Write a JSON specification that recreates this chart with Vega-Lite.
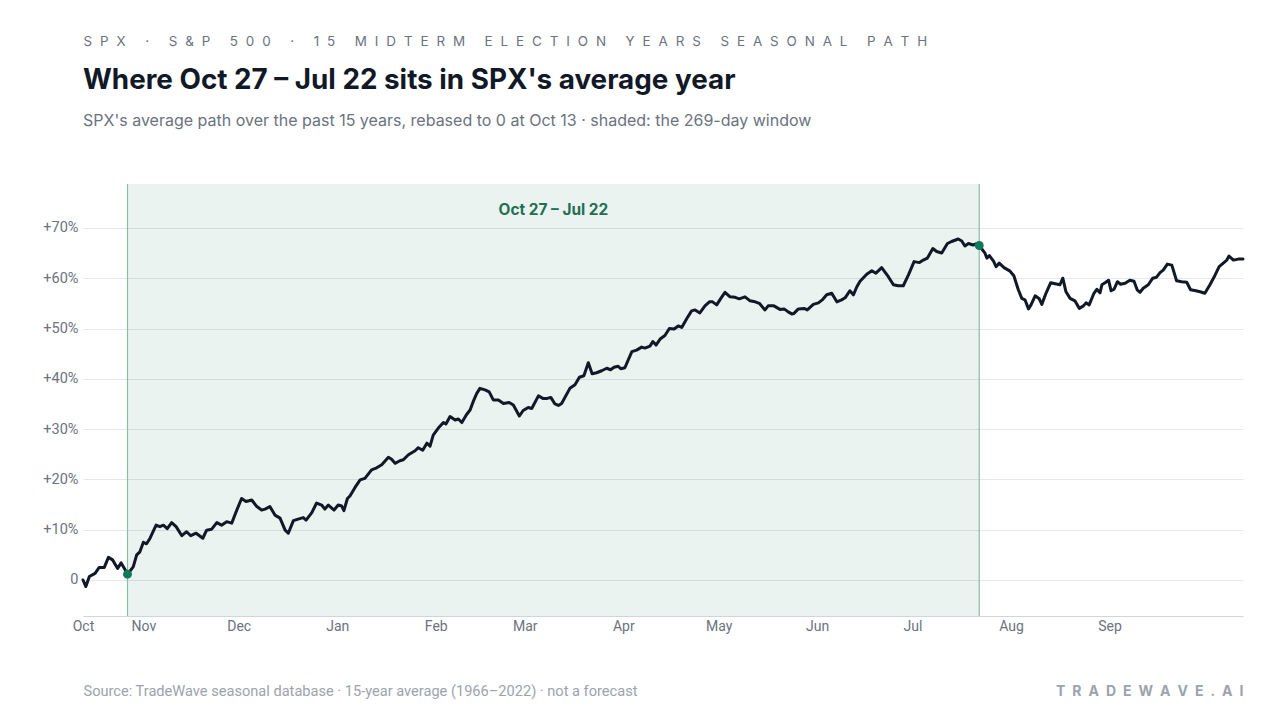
{
  "$schema": "https://vega.github.io/schema/vega-lite/v6.json",
  "width": 1160,
  "height": 432,
  "autosize": {"type": "none"},
  "padding": {"left": 83, "top": 184, "right": 37, "bottom": 104},
  "background": "#ffffff",
  "config": {"view": {"stroke": null}, "font": "Inter"},
  "title": {
    "text": "Where Oct 27 – Jul 22 sits in SPX's average year",
    "subtitle": "SPX's average path over the past 15 years, rebased to 0 at Oct 13 · shaded: the 269-day window",
    "anchor": "start",
    "frame": "group",
    "font": "Inter",
    "fontSize": 27.8,
    "fontWeight": "bold",
    "color": "#111827",
    "subtitleFont": "Inter",
    "subtitleFontSize": 16,
    "subtitleColor": "#6b7280",
    "subtitlePadding": 18,
    "offset": 55,
    "dy": 150
  },
  "datasets": {
    "window": [{"start": 14, "end": 282, "label": "Oct 27 – Jul 22"}],
    "path": [
      {"day":0,"pct":0},{"day":0.9,"pct":-1.3},{"day":2.0,"pct":0.7},{"day":3.8,"pct":1.3},{"day":5.1,"pct":2.5},{"day":6.7,"pct":2.5},{"day":8.0,"pct":4.5},{"day":9.3,"pct":4.0},{"day":10.9,"pct":2.3},{"day":12.0,"pct":3.4},{"day":13.3,"pct":2.0},{"day":14,"pct":1.15},{"day":15.8,"pct":2.6},{"day":16.9,"pct":5.0},{"day":17.9,"pct":5.6},{"day":19.0,"pct":7.5},{"day":20.0,"pct":7.2},{"day":21.1,"pct":8.3},{"day":23.0,"pct":10.9},{"day":24.2,"pct":10.6},{"day":25.3,"pct":10.9},{"day":26.5,"pct":10.2},{"day":27.9,"pct":11.4},{"day":29.3,"pct":10.6},{"day":31.1,"pct":8.8},{"day":32.6,"pct":9.6},{"day":33.9,"pct":8.8},{"day":35.6,"pct":9.3},{"day":37.7,"pct":8.3},{"day":38.9,"pct":9.9},{"day":40.5,"pct":10.1},{"day":42.1,"pct":11.4},{"day":43.6,"pct":10.9},{"day":45.2,"pct":11.6},{"day":46.8,"pct":11.3},{"day":48.4,"pct":13.9},{"day":49.9,"pct":16.2},{"day":51.3,"pct":15.6},{"day":53.1,"pct":15.9},{"day":54.7,"pct":14.6},{"day":56.2,"pct":13.9},{"day":57.3,"pct":14.1},{"day":58.8,"pct":14.6},{"day":60.4,"pct":12.9},{"day":62.0,"pct":12.3},{"day":63.6,"pct":9.9},{"day":64.6,"pct":9.3},{"day":66.2,"pct":11.8},{"day":67.7,"pct":12.1},{"day":69.3,"pct":12.4},{"day":70.2,"pct":11.9},{"day":72.0,"pct":13.4},{"day":73.5,"pct":15.3},{"day":75.1,"pct":14.9},{"day":76.1,"pct":14.1},{"day":77.2,"pct":14.9},{"day":79.0,"pct":13.9},{"day":80.3,"pct":14.9},{"day":81.4,"pct":14.7},{"day":82.1,"pct":13.8},{"day":83.2,"pct":16.2},{"day":84.0,"pct":16.7},{"day":85.6,"pct":18.4},{"day":87.2,"pct":19.9},{"day":88.7,"pct":20.2},{"day":90.8,"pct":21.9},{"day":92.4,"pct":22.3},{"day":94.0,"pct":22.9},{"day":96.1,"pct":24.4},{"day":97.1,"pct":24.0},{"day":98.2,"pct":23.2},{"day":99.7,"pct":23.7},{"day":100.8,"pct":23.9},{"day":102.4,"pct":24.9},{"day":104.5,"pct":25.7},{"day":105.5,"pct":26.3},{"day":106.9,"pct":25.8},{"day":108.2,"pct":27.2},{"day":109.2,"pct":26.6},{"day":110.2,"pct":28.8},{"day":111.8,"pct":30.2},{"day":113.4,"pct":31.3},{"day":114.2,"pct":31.0},{"day":115.5,"pct":32.5},{"day":117.1,"pct":31.8},{"day":118.1,"pct":32.0},{"day":119.2,"pct":31.3},{"day":120.7,"pct":32.9},{"day":121.8,"pct":33.8},{"day":122.8,"pct":35.5},{"day":123.9,"pct":37.1},{"day":124.9,"pct":38.1},{"day":126.5,"pct":37.8},{"day":127.8,"pct":37.4},{"day":129.1,"pct":35.8},{"day":130.7,"pct":35.8},{"day":132.3,"pct":35.1},{"day":134.1,"pct":35.3},{"day":135.4,"pct":34.8},{"day":137.3,"pct":32.6},{"day":138.5,"pct":33.7},{"day":140.1,"pct":34.3},{"day":141.2,"pct":34.1},{"day":143.3,"pct":36.6},{"day":144.7,"pct":36.1},{"day":146.1,"pct":36.1},{"day":147.2,"pct":36.3},{"day":148.5,"pct":35.0},{"day":149.6,"pct":34.7},{"day":150.6,"pct":35.1},{"day":153.2,"pct":38.1},{"day":154.8,"pct":38.8},{"day":156.2,"pct":40.3},{"day":157.6,"pct":40.6},{"day":159.0,"pct":43.2},{"day":160.2,"pct":41.0},{"day":161.6,"pct":41.2},{"day":163.2,"pct":41.6},{"day":164.8,"pct":42.1},{"day":166.0,"pct":41.8},{"day":167.1,"pct":42.3},{"day":168.4,"pct":42.5},{"day":169.2,"pct":42.0},{"day":170.5,"pct":42.2},{"day":172.7,"pct":45.4},{"day":174.2,"pct":45.7},{"day":175.8,"pct":46.3},{"day":176.8,"pct":46.1},{"day":178.4,"pct":46.5},{"day":179.3,"pct":47.4},{"day":180.3,"pct":46.7},{"day":181.6,"pct":47.9},{"day":183.1,"pct":48.6},{"day":184.5,"pct":50.0},{"day":186.0,"pct":49.9},{"day":187.3,"pct":50.5},{"day":188.4,"pct":50.2},{"day":190.0,"pct":52.0},{"day":191.5,"pct":53.5},{"day":192.6,"pct":53.7},{"day":194.1,"pct":53.1},{"day":195.7,"pct":54.5},{"day":197.1,"pct":55.3},{"day":198.1,"pct":55.3},{"day":199.4,"pct":54.7},{"day":200.7,"pct":56.0},{"day":202.0,"pct":57.2},{"day":203.6,"pct":56.3},{"day":205.2,"pct":56.2},{"day":206.5,"pct":55.9},{"day":208.3,"pct":56.3},{"day":209.9,"pct":55.5},{"day":211.5,"pct":55.3},{"day":212.8,"pct":55.0},{"day":214.6,"pct":53.7},{"day":215.6,"pct":54.5},{"day":217.4,"pct":54.5},{"day":219.3,"pct":53.8},{"day":220.6,"pct":53.9},{"day":221.9,"pct":53.3},{"day":223.0,"pct":52.9},{"day":223.7,"pct":53.0},{"day":225.1,"pct":53.9},{"day":226.9,"pct":54.0},{"day":227.9,"pct":53.7},{"day":229.8,"pct":54.8},{"day":231.4,"pct":55.1},{"day":232.8,"pct":55.8},{"day":234.0,"pct":56.7},{"day":235.6,"pct":57.0},{"day":237.2,"pct":55.3},{"day":238.7,"pct":55.7},{"day":239.8,"pct":56.1},{"day":241.3,"pct":57.5},{"day":242.4,"pct":56.7},{"day":243.5,"pct":58.3},{"day":244.5,"pct":59.4},{"day":246.6,"pct":60.8},{"day":248.2,"pct":61.5},{"day":249.5,"pct":61.0},{"day":251.3,"pct":62.1},{"day":253.4,"pct":60.3},{"day":255.0,"pct":58.7},{"day":256.5,"pct":58.5},{"day":258.1,"pct":58.5},{"day":259.7,"pct":60.6},{"day":261.5,"pct":63.3},{"day":263.2,"pct":63.1},{"day":264.4,"pct":63.6},{"day":265.7,"pct":64.0},{"day":267.4,"pct":65.9},{"day":268.6,"pct":65.3},{"day":270.2,"pct":65.0},{"day":272.0,"pct":66.9},{"day":273.3,"pct":67.3},{"day":275.4,"pct":67.8},{"day":276.5,"pct":67.4},{"day":277.5,"pct":66.4},{"day":278.6,"pct":66.9},{"day":280.1,"pct":66.6},{"day":281.0,"pct":66.8},{"day":282,"pct":66.5},{"day":283.8,"pct":65.0},{"day":284.4,"pct":64.0},{"day":285.2,"pct":64.5},{"day":286.5,"pct":63.4},{"day":287.3,"pct":62.3},{"day":288.3,"pct":63.0},{"day":289.8,"pct":62.1},{"day":291.7,"pct":61.4},{"day":292.9,"pct":60.5},{"day":294.3,"pct":57.7},{"day":295.4,"pct":56.0},{"day":296.4,"pct":55.7},{"day":297.5,"pct":53.9},{"day":298.3,"pct":54.7},{"day":299.6,"pct":56.5},{"day":300.9,"pct":55.9},{"day":301.7,"pct":54.8},{"day":303.0,"pct":57.0},{"day":304.5,"pct":59.1},{"day":305.9,"pct":58.9},{"day":307.4,"pct":58.7},{"day":308.3,"pct":60.0},{"day":309.3,"pct":57.3},{"day":310.6,"pct":56.0},{"day":312.1,"pct":55.5},{"day":313.5,"pct":54.0},{"day":314.8,"pct":54.5},{"day":315.6,"pct":55.1},{"day":316.6,"pct":54.7},{"day":318.1,"pct":57.0},{"day":319.0,"pct":57.8},{"day":320.0,"pct":57.1},{"day":320.6,"pct":58.7},{"day":321.6,"pct":59.1},{"day":322.7,"pct":59.6},{"day":323.5,"pct":57.5},{"day":324.4,"pct":57.8},{"day":325.5,"pct":59.3},{"day":326.5,"pct":58.8},{"day":327.9,"pct":59.0},{"day":329.4,"pct":59.6},{"day":330.7,"pct":59.4},{"day":331.7,"pct":57.7},{"day":332.6,"pct":57.2},{"day":333.6,"pct":58.0},{"day":335.2,"pct":58.7},{"day":336.6,"pct":60.0},{"day":337.8,"pct":60.2},{"day":338.9,"pct":61.1},{"day":339.9,"pct":61.6},{"day":341.2,"pct":62.8},{"day":342.6,"pct":62.6},{"day":344.1,"pct":59.5},{"day":345.7,"pct":59.3},{"day":347.3,"pct":59.2},{"day":348.5,"pct":57.7},{"day":350.2,"pct":57.5},{"day":351.5,"pct":57.3},{"day":353.0,"pct":57.0},{"day":354.6,"pct":58.7},{"day":356.2,"pct":60.6},{"day":357.5,"pct":62.3},{"day":358.8,"pct":63.0},{"day":359.9,"pct":63.6},{"day":360.6,"pct":64.4},{"day":362.0,"pct":63.6},{"day":363.5,"pct":63.8},{"day":365,"pct":63.8}
    ]
  },
  "layer": [
    {
      "layer": [
        {
          "data": {"name": "window"},
          "mark": {"type": "rect", "fill": "#1a7f56", "opacity": 0.09},
          "encoding": {
            "x": {"field": "start", "type": "quantitative", "scale": {"domain": [0, 365], "nice": false, "zero": false}},
            "x2": {"field": "end"}
          }
        },
        {
          "data": {"name": "window"},
          "transform": [{"fold": ["start", "end"], "as": ["edge", "pos"]}],
          "mark": {"type": "rule", "color": "#86bfa3", "strokeWidth": 1.2},
          "encoding": {
            "x": {"field": "pos", "type": "quantitative", "scale": {"domain": [0, 365], "nice": false, "zero": false}}
          }
        },
        {
          "data": {"name": "path"},
          "mark": {"type": "line", "color": "#111827", "strokeWidth": 3, "strokeJoin": "round", "strokeCap": "round"},
          "encoding": {
            "x": {
              "field": "day", "type": "quantitative",
              "scale": {"domain": [0, 365], "nice": false, "zero": false},
              "axis": {
                "values": [0, 19, 49, 80, 111, 139, 170, 200, 231, 261, 292, 323],
                "labelExpr": "['Oct','Nov','Dec','Jan','Feb','Mar','Apr','May','Jun','Jul','Aug','Sep'][indexof([0,19,49,80,111,139,170,200,231,261,292,323], datum.value)]",
                "grid": false, "ticks": false, "domain": true, "domainColor": "#d1d5db", "domainWidth": 1,
                "labelColor": "#6b7280", "labelFontSize": 14, "labelFont": "Roboto", "labelPadding": 3, "labelOverlap": false, "labelFlush": false,
                "title": "Source: TradeWave seasonal database · 15-year average (1966–2022) · not a forecast",
                "titleX": 0, "titleY": 79, "titleAlign": "left", "titleAnchor": "start", "titleBaseline": "alphabetic",
                "titleFont": "Roboto", "titleFontSize": 14.6, "titleFontWeight": "normal", "titleColor": "#9ca3af"
              }
            },
            "y": {
              "field": "pct", "type": "quantitative",
              "scale": {"domain": [-7.16, 78.73], "nice": false, "zero": false},
              "axis": {
                "orient": "left",
                "values": [0, 10, 20, 30, 40, 50, 60, 70],
                "labelExpr": "datum.value == 0 ? '0' : '+' + datum.value + '%'",
                "grid": true, "gridColor": "#e5e7eb", "gridWidth": 1,
                "domain": false, "ticks": false,
                "labelColor": "#6b7280", "labelFontSize": 14.5, "labelFont": "Roboto", "labelPadding": 5,
                "title": "S\u2002\u200aP\u2002\u200aX\u2002\u200a\u00a0\u2002\u200a·\u2002\u200a\u00a0\u2002\u200aS\u2002\u200a&\u2002\u200aP\u2002\u200a\u00a0\u2002\u200a5\u2002\u200a0\u2002\u200a0\u2002\u200a\u00a0\u2002\u200a·\u2002\u200a\u00a0\u2002\u200a1\u2002\u200a5\u2002\u200a\u00a0\u2002\u200aM\u2002\u200aI\u2002\u200aD\u2002\u200aT\u2002\u200aE\u2002\u200aR\u2002\u200aM\u2002\u200a\u00a0\u2002\u200aE\u2002\u200aL\u2002\u200aE\u2002\u200aC\u2002\u200aT\u2002\u200aI\u2002\u200aO\u2002\u200aN\u2002\u200a\u00a0\u2002\u200aY\u2002\u200aE\u2002\u200aA\u2002\u200aR\u2002\u200aS\u2002\u200a\u00a0\u2002\u200aS\u2002\u200aE\u2002\u200aA\u2002\u200aS\u2002\u200aO\u2002\u200aN\u2002\u200aA\u2002\u200aL\u2002\u200a\u00a0\u2002\u200aP\u2002\u200aA\u2002\u200aT\u2002\u200aH",
                "titleAngle": 0, "titleAlign": "left", "titleAnchor": "start", "titleBaseline": "alphabetic",
                "titleX": 0, "titleY": -139,
                "titleFont": "Inter", "titleFontSize": 13.4, "titleFontWeight": "normal", "titleColor": "#6b7280"
              }
            }
          }
        },
        {
          "data": {"name": "path"},
          "transform": [{"filter": "datum.day == 14 || datum.day == 282"}],
          "mark": {"type": "point", "filled": true, "color": "#13795b", "size": 80, "opacity": 1},
          "encoding": {
            "x": {"field": "day", "type": "quantitative", "scale": {"domain": [0, 365], "nice": false, "zero": false}},
            "y": {"field": "pct", "type": "quantitative", "scale": {"domain": [-7.16, 78.73], "nice": false, "zero": false}}
          }
        }
      ]
    },
    {
      "data": {"name": "window"},
      "transform": [{"calculate": "(datum.start + datum.end) / 2", "as": "mid"}],
      "mark": {"type": "text", "font": "Inter", "fontSize": 15.4, "fontWeight": "bold", "color": "#1f6f50", "align": "center", "baseline": "middle"},
      "encoding": {
        "x": {"field": "mid", "type": "quantitative", "scale": {"domain": [0, 365], "nice": false, "zero": false}},
        "y": {
          "datum": 73.6, "type": "quantitative",
          "scale": {"domain": [-7.16, 78.73], "nice": false, "zero": false},
          "axis": {
            "orient": "right", "labels": false, "ticks": false, "domain": false, "grid": false,
            "title": "T\u2002R\u2002A\u2002D\u2002E\u2002W\u2002A\u2002V\u2002E\u2002.\u2002A\u2002I",
            "titleAngle": 0, "titleAlign": "right", "titleAnchor": "end", "titleBaseline": "alphabetic",
            "titleX": 0, "titleY": 511,
            "titleFont": "Inter", "titleFontSize": 14, "titleFontWeight": "bold", "titleColor": "#9ca3af"
          }
        },
        "text": {"field": "label"}
      }
    }
  ],
  "resolve": {"scale": {"y": "independent"}, "axis": {"y": "independent"}}
}
